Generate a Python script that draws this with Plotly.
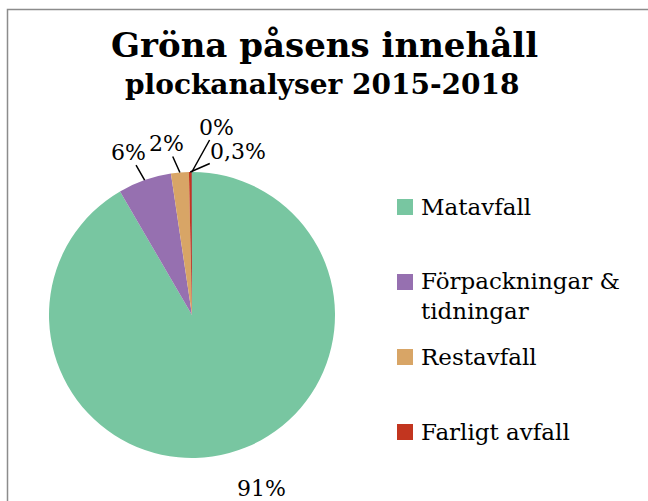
import math
import plotly.graph_objects as go

# ---- data ----
categories = ["Matavfall", "Förpackningar &<br>tidningar", "Restavfall", "Farligt avfall", ""]
values = [91, 6, 2, 0.3, 0.04]
value_labels = ["91%", "6%", "2%", "0,3%", "0%"]
colors = ["#78C6A1", "#9670B0", "#D8A566", "#C2351F", "#5A1428"]
legend_count = 4

title_main = "Gröna påsens innehåll"
title_sub = "plockanalyser 2015-2018"

W, H = 648, 501
FONT = "DejaVu Serif"

def px(x):
    return x / W

def py(y):
    return 1 - y / H

# pie geometry (pixels)
cx, cy, r = 192, 315, 143

fig = go.Figure()
fig.add_trace(go.Pie(
    labels=[c if c else " " for c in categories],
    values=values,
    marker=dict(colors=colors, line=dict(width=0)),
    sort=False,
    direction="clockwise",
    rotation=0,
    textinfo="none",
    hoverinfo="label+percent",
    showlegend=False,
    domain=dict(x=[px(cx - r), px(cx + r)], y=[py(cy + r), py(cy - r)]),
))

# label offsets (pixels) from slice edge midpoints
offsets = [(32, 35), (-16, -28), (-13, -29), (48, -21), (25, -45)]
arrows = [False, True, True, True, True]
total = sum(values)
cum = 0
annotations = []
for i, v in enumerate(values):
    mid = (cum + v / 2) / total * 2 * math.pi
    cum += v
    ex = cx + r * math.sin(mid)
    ey = cy - r * math.cos(mid)
    ox, oy = offsets[i]
    if arrows[i]:
        annotations.append(dict(
            x=px(ex), y=py(ey), xref="paper", yref="paper",
            xanchor="center", yanchor="middle", borderpad=0,
            text=value_labels[i], showarrow=True, arrowhead=0, arrowwidth=1.5,
            arrowcolor="black", ax=ox, ay=oy, standoff=0,
            font=dict(family=FONT, size=22, color="black"),
        ))
    else:
        annotations.append(dict(
            x=px(ex + ox), y=py(ey + oy), xref="paper", yref="paper",
            xanchor="center", yanchor="middle",
            text=value_labels[i], showarrow=False,
            font=dict(family=FONT, size=22, color="black"),
        ))

# titles
annotations.append(dict(x=px(324), y=py(45), xref="paper", yref="paper",
                        xanchor="center", yanchor="middle",
                        text="<b>" + title_main + "</b>", showarrow=False,
                        font=dict(family=FONT, size=34, color="black")))
annotations.append(dict(x=px(322), y=py(84), xref="paper", yref="paper",
                        xanchor="center", yanchor="middle",
                        text="<b>" + title_sub + "</b>", showarrow=False,
                        font=dict(family=FONT, size=28, color="black")))

# custom legend
shapes = []
lx, ly0, lstep, sq = 397, 207, 75, 16
for i in range(legend_count):
    yc = ly0 + i * lstep
    shapes.append(dict(type="rect", xref="paper", yref="paper",
                       x0=px(lx), x1=px(lx + sq), y0=py(yc + sq / 2), y1=py(yc - sq / 2),
                       fillcolor=colors[i], line=dict(width=0)))
    two_lines = "<br>" in categories[i]
    annotations.append(dict(x=px(419), y=py(yc + 14 if two_lines else yc),
                            xref="paper", yref="paper", xanchor="left", yanchor="middle",
                            text=categories[i], showarrow=False, align="left",
                            font=dict(family=FONT, size=23, color="black")))

# chart border
shapes.append(dict(type="rect", xref="paper", yref="paper",
                   x0=px(7.5), x1=px(700), y0=py(560), y1=py(9.5),
                   line=dict(color="#8C8C8C", width=1.5), fillcolor="rgba(0,0,0,0)"))

fig.update_layout(
    width=W, height=H,
    margin=dict(l=0, r=0, t=0, b=0),
    paper_bgcolor="white",
    plot_bgcolor="white",
    annotations=annotations,
    shapes=shapes,
)

fig.write_html("out.html", config={"displayModeBar": False},
               post_script="document.body.style.margin='0';document.body.style.overflow='hidden';")
